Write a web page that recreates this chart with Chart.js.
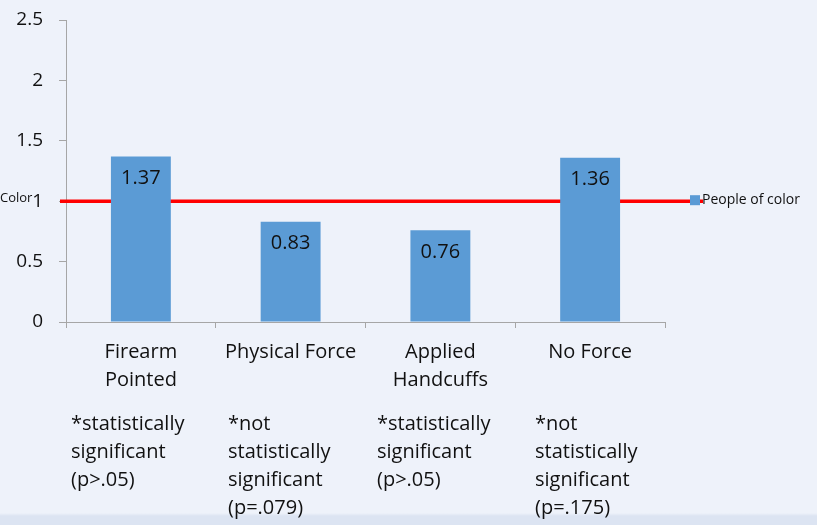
<!DOCTYPE html>
<html>
<head>
<meta charset="utf-8">
<script src="https://cdn.jsdelivr.net/npm/chart.js@4"></script>
<style>
  html, body { margin:0; padding:0; background:#eef2fa; }
  #wrap { position:relative; width:817px; height:525px; overflow:hidden;
          background:linear-gradient(to bottom, #eef2fa 0px, #eef2fa 513px, #dce4f2 516px, #dce4f2 525px); }
  canvas { position:absolute; left:0; top:0; }
</style>
</head>
<body>
<div id="wrap"><canvas id="c" width="817" height="525"></canvas></div>
<script>
const categories = [["Firearm", "Pointed"], ["Physical Force"], ["Applied", "Handcuffs"], ["No Force"]];
const seriesLabel = "People of color";
const seriesValues = [1.37, 0.83, 0.76, 1.36];
const valueLabels = ["1.37", "0.83", "0.76", "1.36"];
const yTicks = [0, 0.5, 1, 1.5, 2, 2.5];
const yTickLabels = ["0", "0.5", "1", "1.5", "2", "2.5"];
const referenceValue = 1;
const referenceLabel = "Color";
const notes = [
  ["*statistically", "significant", "(p>.05)"],
  ["*not", "statistically", "significant", "(p=.079)"],
  ["*statistically", "significant", "(p>.05)"],
  ["*not", "statistically", "significant", "(p=.175)"]
];

const FONT = "'Open Sans', 'Noto Sans', sans-serif";
const BAR = "#5b9bd5";
const TXT = "#111111";

const refLinePlugin = {
  id: "refLine",
  beforeDatasetsDraw(chart) {
    const ctx = chart.ctx;
    const y = chart.scales.y.getPixelForValue(referenceValue);
    ctx.save();
    ctx.strokeStyle = "#ff0000";
    ctx.lineWidth = 3.5;
    ctx.beginPath();
    ctx.moveTo(60, y);
    ctx.lineTo(703, y);
    ctx.stroke();
    ctx.restore();
  },
  afterDraw(chart) {
    const ctx = chart.ctx;
    const y = chart.scales.y.getPixelForValue(referenceValue);
    ctx.save();
    ctx.fillStyle = TXT;
    ctx.font = "13px " + FONT;
    ctx.textAlign = "left";
    ctx.textBaseline = "middle";
    ctx.fillText(referenceLabel, 0, y - 3);
    ctx.fillStyle = BAR;
    ctx.fillRect(690, y - 6, 10, 10);
    ctx.fillStyle = TXT;
    ctx.font = "14px " + FONT;
    ctx.fillText(seriesLabel, 702, y - 1);
    const meta = chart.getDatasetMeta(0);
    ctx.font = "20px " + FONT;
    ctx.textAlign = "center";
    meta.data.forEach((bar, i) => {
      ctx.fillText(valueLabels[i], bar.x, bar.y + 22);
    });
    const xs = [71, 228, 377, 535];
    ctx.textAlign = "left";
    notes.forEach((lines, i) => {
      lines.forEach((t, j) => {
        ctx.fillText(t, xs[i], 424 + j * 28);
      });
    });
    ctx.restore();
  }
};

new Chart(document.getElementById("c"), {
  type: "bar",
  data: {
    labels: categories,
    datasets: [{
      label: seriesLabel,
      data: seriesValues,
      backgroundColor: BAR,
      borderWidth: 0,
      categoryPercentage: 1.0,
      barPercentage: 0.4
    }]
  },
  options: {
    responsive: false,
    animation: false,
    devicePixelRatio: 1,
    layout: { padding: { top: 20, right: 152, left: 0, bottom: 0 } },
    plugins: { legend: { display: false }, tooltip: { enabled: false } },
    scales: {
      x: {
        offset: true,
        grid: { display: true, drawOnChartArea: false, offset: true, tickLength: 6, color: "#a6a6a6", lineWidth: 1 },
        border: { display: true, color: "#a6a6a6", width: 1 },
        ticks: { color: TXT, font: { family: FONT, size: 20, lineHeight: 1.4 }, padding: 10, maxRotation: 0, autoSkip: false },
        afterFit(scale) { scale.height = 203; scale.paddingLeft = 0; scale.paddingRight = 0; }
      },
      y: {
        min: 0, max: 2.5,
        afterBuildTicks(scale) { scale.ticks = yTicks.map(v => ({ value: v })); },
        grid: { display: true, drawOnChartArea: false, tickLength: 7, color: "#a6a6a6", lineWidth: 1 },
        border: { display: true, color: "#a6a6a6", width: 1 },
        ticks: {
          color: TXT, font: { family: FONT, size: 19 }, padding: 16,
          callback(value, index) { return yTickLabels[yTicks.indexOf(value)]; }
        },
        afterFit(scale) { scale.width = 66; scale.paddingTop = 0; scale.paddingBottom = 0; }
      }
    }
  },
  plugins: [refLinePlugin]
});
</script>
</body>
</html>
